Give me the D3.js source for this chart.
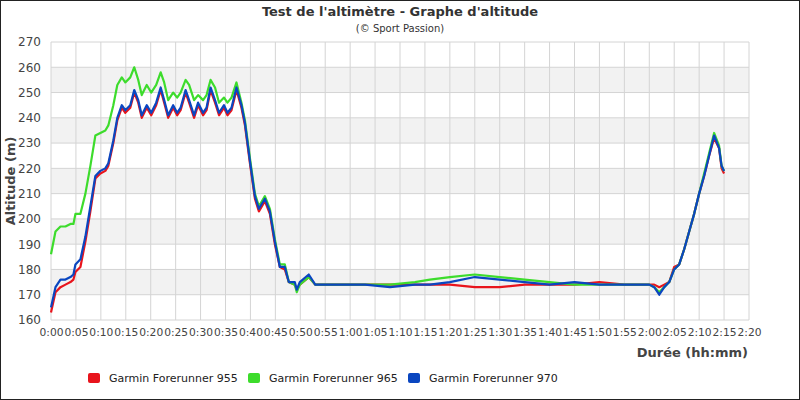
<!DOCTYPE html><html><head><meta charset="utf-8">
<script src="https://cdn.jsdelivr.net/npm/d3@7"></script>
<style>body{margin:0;background:#fff}svg{font-family:"DejaVu Sans",sans-serif}</style></head><body>
<svg id="c" width="800" height="400"></svg>
<script>
const times=[0,0.9,1.9,2.9,3.9,4.5,4.9,5.9,6.9,7.9,8.9,9.9,10.9,11.5,12.5,13.3,14.2,14.9,15.9,16.7,17.5,18.2,19.2,20.1,21.1,22,22.7,23.5,24.5,25.3,26,27,27.7,28.7,29.5,30.5,31.2,32,32.9,33.7,34.7,35.4,36.2,37.2,38.2,38.9,39.9,40.9,41.7,42.9,43.9,44.9,45.9,46.9,47.7,48.9,49.3,49.9,51.7,
 53,58,63,68,73,76,80,85,90,95,100,105,110,115,118,
 120,121,122,123,124,125,126,127,128,129,130,131,132,133,134,134.5,135];
const fr955=[163,171,173,174,175,176,179,181,191,203,216,218,219,221,230,239,244,242,244,250,246,240,244,241,245,251,246,240,244,241,243,250,246,240,245,241,243,251,246,241,244,241,243,251,244,237,222,208,203,207,202,190,181,180,175,174,172,174,177,
 174,174,174,174,174,174,174,173,173,174,174,174,175,174,174,
 174,174,173,174,175,181,182,188,195,202,210,217,225,232,228,220,218];
const fr965=[186,195,197,197,198,198,202,202,210,221,233,234,235,237,245,253,256,254,256,260,255,249,253,250,253,258,254,247,250,248,250,255,253,247,249,247,249,255,252,246,248,246,248,254,246,239,224,210,205,209,204,192,182,182,175,174,171,174,177,
 174,174,174,174,175,176,177,178,177,176,175,174,174,174,174,
 174,173,171,173,175,180,182,188,195,202,210,218,226,234,229,221,219];
const fr970=[165,173,176,176,177,178,182,184,193,205,217,219,220,222,231,240,245,243,245,251,247,241,245,242,246,252,247,241,245,242,244,251,247,241,246,242,244,252,247,242,245,242,244,252,245,238,223,209,204,208,203,191,181,181,175,175,172,175,178,
 174,174,174,173,174,174,175,177,176,175,174,175,174,174,174,
 174,173,170,173,175,180,182,188,195,202,210,217,225,233,228,221,219];
const xTicks=d3.range(0,141,5);
const yTicks=d3.range(160,271,10);
const series=[{name:"Garmin Forerunner 955",v:fr955,c:"#e8141c"},{name:"Garmin Forerunner 965",v:fr965,c:"#3ddc2c"},{name:"Garmin Forerunner 970",v:fr970,c:"#0a46c0"}];
const fmt=m=>Math.floor(m/60)+":"+String(m%60).padStart(2,"0");
const svg=d3.select("#c");
svg.append("rect").attr("x",0.5).attr("y",0.5).attr("width",799).attr("height",399).attr("fill","#fff").attr("stroke","#222");
const x=d3.scaleLinear().domain([0,140]).range([51,749]);
const y=d3.scaleLinear().domain([160,270]).range([320,42]);
for(let i=0;i<yTicks.length-1;i++){ if(i%2===1) svg.append("rect").attr("x",51).attr("width",698).attr("y",y(yTicks[i+1])).attr("height",y(yTicks[i])-y(yTicks[i+1])).attr("fill","#f2f2f2");}
svg.append("g").selectAll("line").data(xTicks).join("line").attr("x1",d=>x(d)).attr("x2",d=>x(d)).attr("y1",42).attr("y2",320).attr("stroke","#d4d4d4");
svg.append("g").selectAll("line").data(yTicks).join("line").attr("y1",d=>y(d)).attr("y2",d=>y(d)).attr("x1",51).attr("x2",749).attr("stroke","#d4d4d4");
const xa=svg.append("g").attr("transform","translate(0,320)").call(d3.axisBottom(x).tickValues(xTicks).tickFormat(fmt).tickSize(0).tickPadding(8));
const ya=svg.append("g").attr("transform","translate(51,0)").call(d3.axisLeft(y).tickValues(yTicks).tickSize(0).tickPadding(10));
[xa,ya].forEach(a=>{a.select(".domain").remove();a.selectAll("text").attr("fill","#444").style("font-size","12px").style("font-family","DejaVu Sans");});
xa.selectAll("text").style("font-size","11px").attr("textLength",24).attr("lengthAdjust","spacingAndGlyphs");
const line=d3.line().x((d,i)=>x(times[i])).y(d=>y(d));
series.forEach(s=>svg.append("path").attr("d",line(s.v)).attr("fill","none").attr("stroke",s.c).attr("stroke-width",2.2).attr("stroke-linejoin","round"));
svg.append("text").attr("x",400).attr("y",16).attr("text-anchor","middle").attr("font-weight","bold").attr("font-size",13).attr("fill","#333").text("Test de l'altimètre - Graphe d'altitude");
svg.append("text").attr("x",400).attr("y",32).attr("text-anchor","middle").attr("font-size",10).attr("fill","#333").text("(© Sport Passion)");
svg.append("text").attr("transform","translate(15,181) rotate(-90)").attr("text-anchor","middle").attr("font-weight","bold").attr("font-size",13).attr("fill","#444").text("Altitude (m)");
svg.append("text").attr("x",748).attr("y",357).attr("text-anchor","end").attr("font-weight","bold").attr("font-size",13).attr("fill","#444").text("Durée (hh:mm)");
const lg=svg.append("g").selectAll("g").data(series).join("g").attr("transform",(d,i)=>`translate(${88+i*160},378)`);
lg.append("rect").attr("x",0).attr("y",-5).attr("width",12).attr("height",10).attr("rx",2).attr("fill",d=>d.c);
lg.append("text").attr("x",21).attr("y",4).attr("font-size",11).attr("fill","#222").text(d=>d.name);
</script></body></html>
